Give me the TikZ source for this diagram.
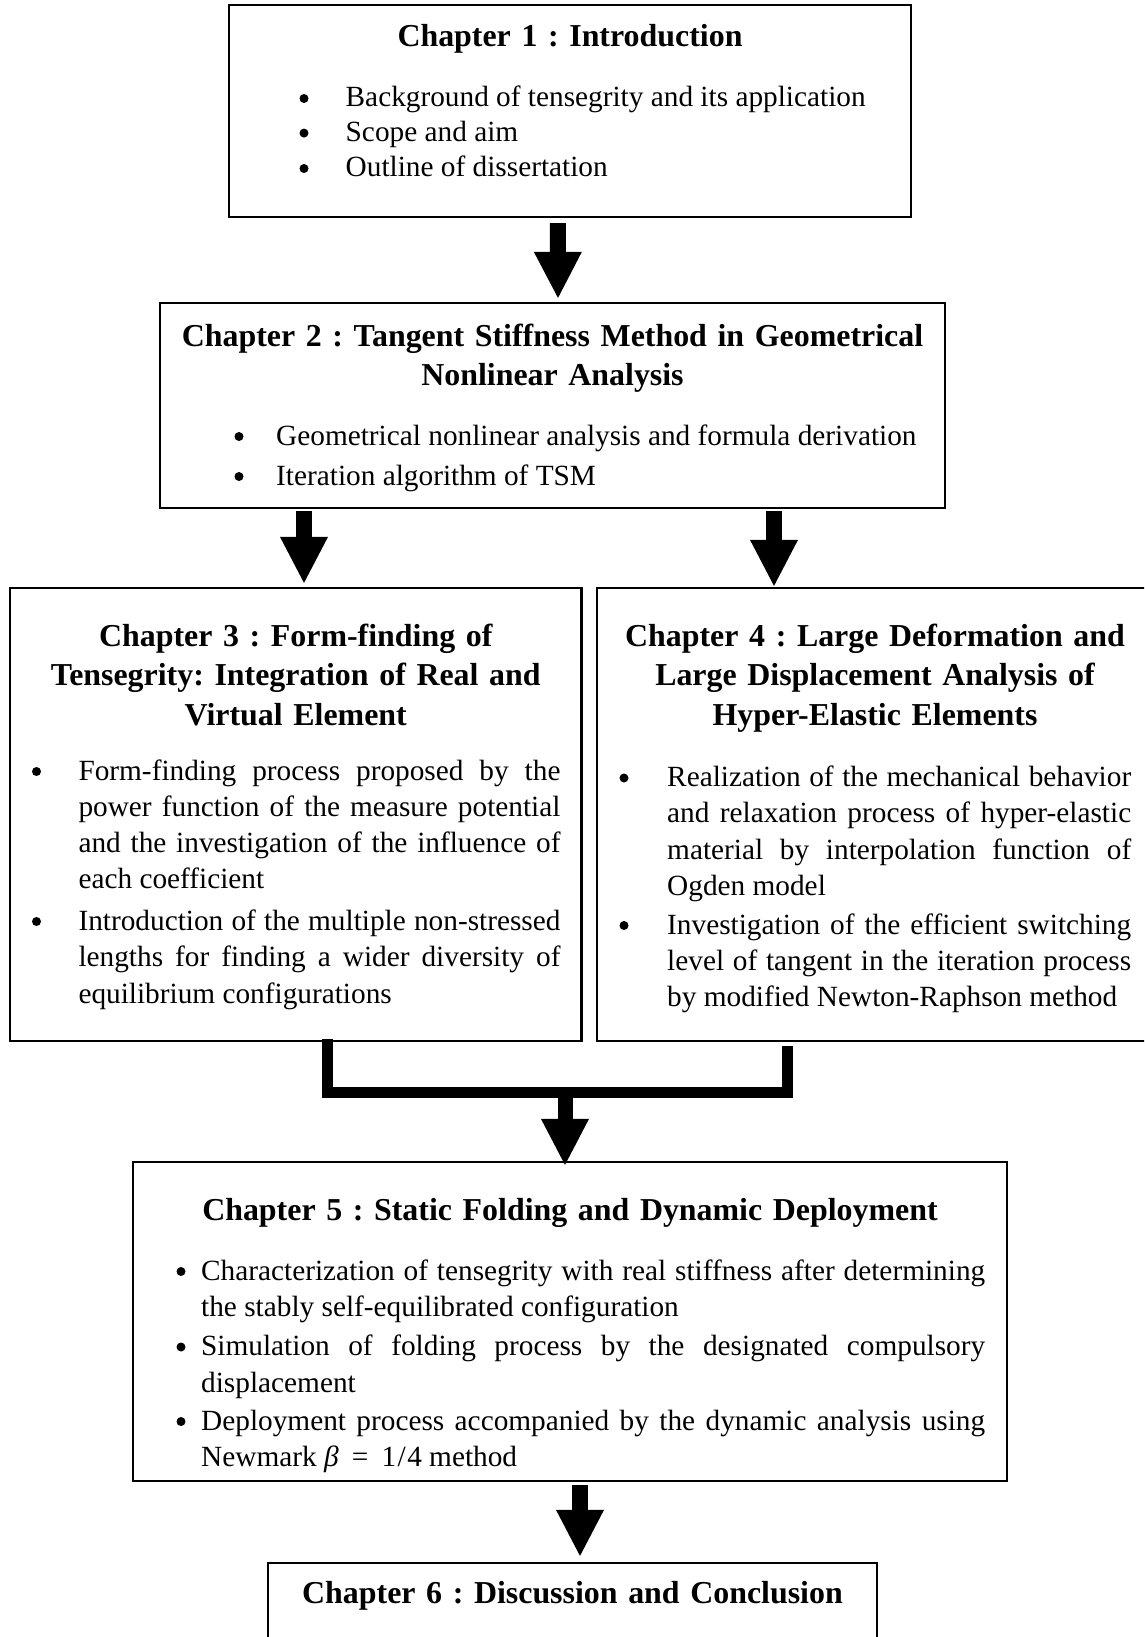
\documentclass[tikz,border=0pt]{standalone}
\usepackage{fontspec}
\setmainfont{Liberation Serif}
\usetikzlibrary{arrows.meta}
\frenchspacing

% one justified line of a bullet paragraph, spread to the paragraph width
\newcommand\jline[1]{\makebox[\hsize][s]{\spaceskip=0pt\xspaceskip=0pt\relax #1}}

\begin{document}
\begin{tikzpicture}[x=1pt,y=-1pt,
  box/.style={draw, line width=2.2pt, inner sep=0pt},
  chaptitle/.style={font=\fontsize{31.9}{39.6}\selectfont\bfseries\frenchspacing, align=center, inner sep=0pt, anchor=base},
  bul/.style={circle, fill, inner sep=0pt, minimum size=9pt},
  line1/.style={font=\fontsize{29.3}{35}\selectfont, inner sep=0pt, anchor=base west},
  para/.style={inner sep=0pt, anchor=base west, align=justify},
  blockarrow/.style={line width=16pt, -{Triangle[width=48pt,length=46pt,line width=0pt]}},
  mergebar/.style={line width=11pt, line join=miter},
]
\clip (0,0) rectangle (1144,1637);

% ---------- boxes ----------
\node[box, minimum width=682.4pt, minimum height=211.8pt] (c1) at (569.8,111.1) {};
\node[box, minimum width=785pt,   minimum height=205pt]   (c2) at (552.5,405.5) {};
\node[box, minimum width=571.5pt, minimum height=453pt]   (c3) at (295.75,814.5) {};
\node[box, minimum width=556pt,   minimum height=453pt]   (c4) at (875,814.5) {};
\node[box, minimum width=874pt,   minimum height=319pt]   (c5) at (570,1321.5) {};
\node[box, minimum width=609pt,   minimum height=160pt]   (c6) at (572.5,1643) {};

% ---------- Chapter 1 ----------
\node[chaptitle, text width=600pt] (h1) at (570,47) {Chapter 1 : Introduction};
\node[bul] (d1a) at (304,98.5)  {};
\node[bul] (d1b) at (304,133.1) {};
\node[bul] (d1c) at (304,168.5) {};
\node[line1] (i1a) at (345.5,107)   {Background of tensegrity and its application};
\node[line1] (i1b) at (345.5,141.6) {Scope and aim};
\node[line1] (i1c) at (345.5,177)   {Outline of dissertation};

% ---------- Chapter 2 ----------
\node[chaptitle, text width=770pt] (h2) at (552.5,346)
  {Chapter 2 : Tangent Stiffness Method in Geometrical\\Nonlinear Analysis};
\node[bul] (d2a) at (239,436.5) {};
\node[bul] (d2b) at (239,476.5) {};
\node[line1] (i2a) at (276,445) {Geometrical nonlinear analysis and formula derivation};
\node[line1] (i2b) at (276,485) {Iteration algorithm of TSM};

% ---------- Chapter 3 ----------
\node[chaptitle, text width=560pt] (h3) at (295.75,646)
  {Chapter 3 : Form-finding of\\Tensegrity: Integration of Real and\\Virtual Element};
\node[bul] (d3a) at (36.5,771.5) {};
\node[bul] (d3b) at (36.5,921.5) {};
\node[para, text width=482pt, font=\fontsize{29.3}{36.3}\selectfont] (i3a) at (78.3,780)
  {\jline{Form-finding process proposed by the}\\
   \jline{power function of the measure potential}\\
   \jline{and the investigation of the influence of}\\
   each coefficient};
\node[para, text width=482pt, font=\fontsize{29.3}{36.5}\selectfont] (i3b) at (78.3,930)
  {\jline{Introduction of the multiple non-stressed}\\
   \jline{lengths for finding a wider diversity of}\\
   equilibrium configurations};

% ---------- Chapter 4 ----------
\node[chaptitle, text width=540pt] (h4) at (875,646)
  {Chapter 4 : Large Deformation and\\Large Displacement Analysis of\\Hyper-Elastic Elements};
\node[bul] (d4a) at (624,778) {};
\node[bul] (d4b) at (624,925.5) {};
\node[para, text width=464pt, font=\fontsize{29.3}{36.3}\selectfont] (i4a) at (667,786.5)
  {\jline{Realization of the mechanical behavior}\\
   \jline{and relaxation process of hyper-elastic}\\
   \jline{material by interpolation function of}\\
   Ogden model};
\node[para, text width=464pt, font=\fontsize{29.3}{36}\selectfont] (i4b) at (667,934)
  {\jline{Investigation of the efficient switching}\\
   \jline{level of tangent in the iteration process}\\
   by modified Newton-Raphson method};

% ---------- Chapter 5 ----------
\node[chaptitle, text width=840pt] (h5) at (570,1220)
  {Chapter 5 : Static Folding and Dynamic Deployment};
\node[bul] (d5a) at (181,1271.5) {};
\node[bul] (d5b) at (181,1347)   {};
\node[bul] (d5c) at (181,1421.5) {};
\node[para, text width=784pt, font=\fontsize{29.3}{36.8}\selectfont] (i5a) at (201,1280)
  {\jline{Characterization of tensegrity with real stiffness after determining}\\
   the stably self-equilibrated configuration};
\node[para, text width=784pt, font=\fontsize{29.3}{36.5}\selectfont] (i5b) at (201,1355.5)
  {\jline{Simulation of folding process by the designated compulsory}\\
   displacement};
\node[para, text width=784pt, font=\fontsize{29.3}{36.4}\selectfont] (i5c) at (201,1430)
  {\jline{Deployment process accompanied by the dynamic analysis using}\\
   Newmark \textit{β}\hspace{0.45em}=\hspace{0.45em}1\hspace{0.05em}/\hspace{0.05em}4 method};

% ---------- Chapter 6 ----------
\node[chaptitle, text width=580pt] (h6) at (572.5,1603)
  {Chapter 6 : Discussion and Conclusion};

% ---------- connectors ----------
\draw[blockarrow] ([xshift=-12pt,yshift=-5pt]c1.south) -- ([xshift=5.5pt,yshift=4pt]c2.north);
\draw[blockarrow] ([xshift=-248.5pt,yshift=-2pt]c2.south) -- ([xshift=8.25pt,yshift=4pt]c3.north);
\draw[blockarrow] ([xshift=221.5pt,yshift=-2pt]c2.south) -- ([xshift=-101pt,yshift=1pt]c4.north);

\coordinate (jn) at (565,1092.5);
\draw[mergebar] ([xshift=31.25pt,yshift=3pt]c3.south) |- (jn) -| ([xshift=-88pt,yshift=-4pt]c4.south);
\draw[blockarrow, line width=15pt] (jn) -- ([xshift=-5pt,yshift=-4pt]c5.north);

\draw[blockarrow] ([xshift=10pt,yshift=-3pt]c5.south) -- ([xshift=7.5pt,yshift=6pt]c6.north);
\end{tikzpicture}
\end{document}
